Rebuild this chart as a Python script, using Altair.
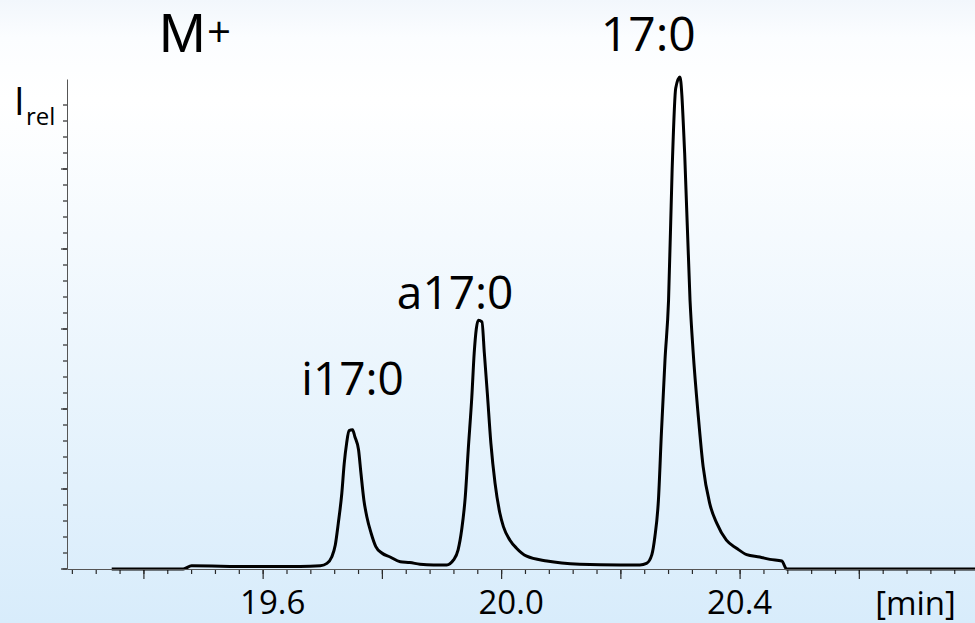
import altair as alt
import pandas as pd

# ---- data ----
time_min = [19.346, 19.466, 19.480, 19.578, 19.662, 19.696, 19.707, 19.715, 19.721, 19.726,
            19.732, 19.736, 19.740, 19.744, 19.750, 19.754, 19.760, 19.764, 19.769, 19.774,
            19.781, 19.789, 19.799, 19.813, 19.830, 19.846, 19.863, 19.886, 19.908, 19.919,
            19.927, 19.933, 19.939, 19.944, 19.950, 19.954, 19.961, 19.967, 19.971, 19.976,
            19.982, 19.989, 19.997, 20.003, 20.014, 20.025, 20.042, 20.076, 20.131, 20.199,
            20.232, 20.243, 20.252, 20.257, 20.263, 20.268, 20.274, 20.280, 20.286, 20.292,
            20.299, 20.307, 20.316, 20.321, 20.330, 20.338, 20.349, 20.361, 20.377, 20.394,
            20.411, 20.433, 20.450, 20.470, 20.478, 20.794]
intensity = [0, 0, 0.04, 0.03, 0.03, 0.04, 0.07, 0.15, 0.30, 0.57,
             0.95, 1.32, 1.57, 1.73, 1.74, 1.65, 1.49, 1.20, 0.86, 0.65,
             0.45, 0.28, 0.20, 0.15, 0.09, 0.08, 0.06, 0.05, 0.05, 0.11,
             0.24, 0.49, 0.90, 1.49, 2.15, 2.70, 3.11, 3.09, 2.70, 2.20,
             1.57, 1.07, 0.70, 0.53, 0.36, 0.26, 0.16, 0.10, 0.06, 0.05,
             0.05, 0.07, 0.18, 0.40, 0.86, 1.70, 2.61, 3.36, 4.99, 6.01,
             6.15, 5.20, 3.36, 2.74, 1.90, 1.28, 0.82, 0.57, 0.36, 0.26,
             0.18, 0.15, 0.12, 0.10, 0, 0]

peak_names = ["i17:0", "a17:0", "17:0"]
peak_label_time = [19.750, 19.922, 20.246]
peak_label_level = [2.175, 3.25, 6.48]
peak_label_size = [46, 46, 48]

x_label_values = [19.6, 20.0, 20.4]
x_major_ticks = [19.4, 19.6, 19.8, 20.0, 20.2, 20.4, 20.6]
x_minor_ticks = [round(19.28 + 0.04 * i, 2) for i in range(38)]
y_major_ticks = [0, 1, 2, 3, 4, 5]
y_minor_ticks = [round(0.2 * i, 1) for i in range(30)]

X_DOMAIN = [19.271, 20.794]
Y_DOMAIN = [0, 6.125]
W, H = 908, 490
FONT = "Open Sans"
TICK = "#2a2a2a"

df = pd.DataFrame({"t": time_min, "I": intensity})
labels = pd.DataFrame({"name": peak_names, "t": peak_label_time,
                       "lvl": peak_label_level, "size": peak_label_size})

x_scale = alt.Scale(domain=X_DOMAIN, nice=False, zero=False)
y_scale = alt.Scale(domain=Y_DOMAIN, nice=False, zero=False)

x_axis = alt.Axis(
    values=x_label_values,
    grid=False,
    zindex=1,
    ticks=False,
    domainColor="#555555",
    format=".1f",
    labelOffset={"condition": {"test": "datum.value > 20.3", "value": -1}, "value": 9},
    labelFont=FONT, labelFontSize=33, labelColor="#000000",
    labelPadding=18, labelOverlap=False, labelFlush=False, labelBound=False,
    title="[min]", titleFont=FONT, titleFontSize=33, titleFontWeight="normal",
    titleColor="#000000", titleX=848, titleY=45, titleAlign="center",
    titleBaseline="alphabetic",
)
y_axis = alt.Axis(
    values=y_major_ticks,
    grid=False,
    zindex=1,
    ticks=False,
    labels=False,
    title=None,
    domainColor="#555555",
)

bg = alt.Chart(alt.Data(values=[{"a": 1}])).mark_rect(
    fill=alt.LinearGradient(
        gradient="linear",
        stops=[
            alt.GradientStop(offset=0, color="#f2f7fc"),
            alt.GradientStop(offset=0.06, color="#fbfdff"),
            alt.GradientStop(offset=0.16, color="#ffffff"),
            alt.GradientStop(offset=1, color="#d8ecfb"),
        ],
        x1=0, x2=0, y1=0, y2=1,
    ),
    stroke=None,
).encode(x=alt.value(-67), x2=alt.value(W), y=alt.value(-79), y2=alt.value(H + 54))

line = alt.Chart(df).mark_line(color="#000000", strokeWidth=3, interpolate="monotone").encode(
    x=alt.X("t:Q", scale=x_scale, axis=x_axis),
    y=alt.Y("I:Q", scale=y_scale, axis=y_axis),
)

# tick marks drawn through the same scales
xminor = alt.Chart(pd.DataFrame({"t": x_minor_ticks})).mark_rule(color=TICK, strokeWidth=1.2).encode(
    x=alt.X("t:Q", scale=x_scale), y=alt.value(H), y2=alt.value(H + 5))
xmajor = alt.Chart(pd.DataFrame({"t": x_major_ticks})).mark_rule(color=TICK, strokeWidth=1.2).encode(
    x=alt.X("t:Q", scale=x_scale), y=alt.value(H), y2=alt.value(H + 10))
yminor = alt.Chart(pd.DataFrame({"v": y_minor_ticks})).mark_rule(color=TICK, strokeWidth=1.2).encode(
    y=alt.Y("v:Q", scale=y_scale), x=alt.value(-4), x2=alt.value(0))
ymajor = alt.Chart(pd.DataFrame({"v": y_major_ticks})).mark_rule(color=TICK, strokeWidth=1.2).encode(
    y=alt.Y("v:Q", scale=y_scale), x=alt.value(-6), x2=alt.value(0))
xstub = alt.Chart(alt.Data(values=[{"a": 1}])).mark_rule(color="#555555", strokeWidth=1).encode(
    x=alt.value(-5), x2=alt.value(0), y=alt.value(H))

peak_text = alt.Chart(labels).mark_text(
    font=FONT, align="center", baseline="alphabetic", color="#000000"
).encode(
    x=alt.X("t:Q", scale=x_scale),
    y=alt.Y("lvl:Q", scale=y_scale),
    text="name:N",
    size=alt.Size("size:Q", scale=None, legend=None),
)

one = alt.Data(values=[{"a": 1}])
m_text = alt.Chart(one).mark_text(font="Liberation Sans", fontSize=56, align="left",
                                  baseline="alphabetic", color="#000000", text="M"
                                  ).encode(x=alt.value(92), y=alt.value(-27))
plus_text = alt.Chart(one).mark_text(font=FONT, fontSize=42, align="left", baseline="alphabetic",
                                     color="#000000", text="+").encode(x=alt.value(140), y=alt.value(-32))
i_text = alt.Chart(one).mark_text(font=FONT, fontSize=38, align="left", baseline="alphabetic",
                                  color="#000000", text="I").encode(x=alt.value(-53), y=alt.value(36))
rel_text = alt.Chart(one).mark_text(font=FONT, fontSize=24, align="left", baseline="alphabetic",
                                    color="#000000", text="rel").encode(x=alt.value(-41), y=alt.value(46))

chart = alt.layer(bg, xminor, xmajor, yminor, ymajor, xstub, line, peak_text,
                  m_text, plus_text, i_text, rel_text).properties(
    width=W, height=H,
    autosize=alt.AutoSizeParams(type="none"),
    padding={"left": 67, "top": 79, "right": 0, "bottom": 54},
    background="#eaf4fd",
).configure_view(stroke=None)

chart.save("out.html", embed_options={"renderer": "svg", "actions": False})
